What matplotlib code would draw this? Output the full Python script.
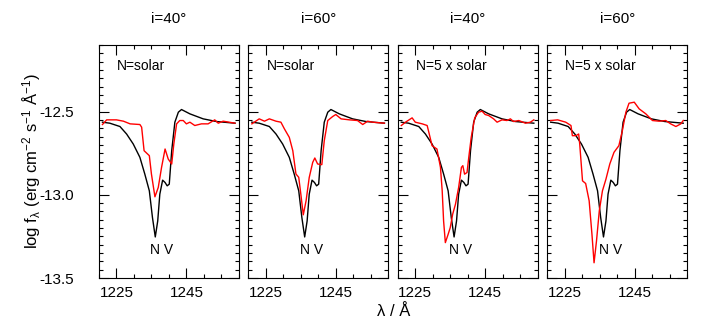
import numpy as np
import matplotlib
matplotlib.use('Agg')
import matplotlib.pyplot as plt
from matplotlib.ticker import MultipleLocator

plt.rcParams['font.family'] = ['Liberation Sans', 'DejaVu Sans']
plt.rcParams['mathtext.fontset'] = 'custom'
plt.rcParams['mathtext.rm'] = 'Liberation Sans'
plt.rcParams['mathtext.it'] = 'Liberation Sans'

# observed spectrum (same in every panel)
obs_wl = [1221.0, 1223.1, 1226.0, 1227.9, 1229.8, 1231.7, 1233.1, 1234.4, 1235.3, 1236.1,
          1236.8, 1237.4, 1238.2, 1238.9, 1239.5, 1240.1, 1240.8, 1241.7, 1242.7, 1243.6,
          1246.0, 1249.8, 1253.6, 1258.9]
obs_f = [-12.564, -12.57, -12.59, -12.635, -12.695, -12.775, -12.875, -12.976, -13.137, -13.253,
         -13.157, -12.996, -12.912, -12.926, -12.946, -12.936, -12.735, -12.564, -12.504, -12.488,
         -12.514, -12.544, -12.56, -12.57]

# models
m1_wl = [1221.0, 1222.2, 1225.0, 1227.0, 1228.9, 1231.7, 1232.2, 1232.9, 1234.4, 1235.0,
         1236.0, 1236.95, 1237.9, 1238.9, 1239.8, 1240.8, 1241.4, 1242.2, 1243.1, 1244.1,
         1245.0, 1246.0, 1247.4, 1249.3, 1251.2, 1253.1, 1254.1, 1255.5, 1258.9]
m1_f = [-12.578, -12.55, -12.55, -12.558, -12.574, -12.578, -12.594, -12.735, -12.765, -12.875,
        -13.012, -12.956, -12.835, -12.725, -12.785, -12.815, -12.695, -12.574, -12.554, -12.554,
        -12.574, -12.564, -12.584, -12.574, -12.574, -12.55, -12.57, -12.558, -12.57]

m2_wl = [1221.0, 1223.1, 1224.6, 1226.0, 1227.9, 1229.3, 1230.3, 1231.7, 1232.7, 1233.6,
         1234.4, 1235.0, 1235.7, 1236.5, 1237.4, 1238.4, 1239.0, 1239.8, 1241.0, 1241.7,
         1242.7, 1244.1, 1245.0, 1246.5, 1248.9, 1251.2, 1252.7, 1254.1, 1255.5, 1258.9]
m2_f = [-12.574, -12.544, -12.558, -12.544, -12.558, -12.564, -12.604, -12.655, -12.735, -12.875,
        -12.895, -12.996, -13.12, -13.036, -12.896, -12.805, -12.779, -12.815, -12.819, -12.675,
        -12.554, -12.53, -12.518, -12.544, -12.55, -12.554, -12.578, -12.558, -12.564, -12.57]

m3_wl = [1221.0, 1222.2, 1224.1, 1225.0, 1227.0, 1228.4, 1229.0, 1229.8, 1231.2, 1232.2,
         1232.7, 1233.1, 1233.6, 1234.4, 1235.0, 1235.7, 1236.5, 1237.4, 1238.2, 1238.6,
         1239.1, 1239.8, 1240.3, 1241.0, 1242.0, 1243.1, 1244.1, 1245.0, 1246.0, 1247.4,
         1248.4, 1249.8, 1251.2, 1252.2, 1253.1, 1254.6, 1256.5, 1257.9, 1258.9]
m3_f = [-12.584, -12.564, -12.538, -12.564, -12.574, -12.584, -12.635, -12.705, -12.725, -12.835,
        -12.976, -13.157, -13.287, -13.237, -13.197, -13.116, -13.056, -12.956, -12.835, -12.825,
        -12.876, -12.866, -12.775, -12.655, -12.538, -12.504, -12.498, -12.518, -12.524, -12.544,
        -12.564, -12.55, -12.554, -12.544, -12.56, -12.554, -12.57, -12.564, -12.55]

m4_wl = [1221.0, 1223.0, 1225.3, 1226.8, 1227.2, 1228.2, 1229.0, 1229.3, 1230.1, 1231.0,
         1232.0, 1232.8, 1233.4, 1234.1, 1234.9, 1235.8, 1236.8, 1237.9, 1239.1, 1240.5,
         1241.5, 1242.5, 1243.4, 1244.9, 1246.3, 1248.2, 1250.1, 1252.0, 1253.9, 1255.3,
         1256.8, 1258.2, 1258.9]
m4_f = [-12.554, -12.55, -12.564, -12.584, -12.645, -12.645, -12.635, -12.695, -12.916, -12.932,
        -13.036, -13.237, -13.408, -13.277, -13.096, -12.976, -12.906, -12.815, -12.745, -12.705,
        -12.614, -12.504, -12.45, -12.444, -12.484, -12.514, -12.554, -12.558, -12.554, -12.574,
        -12.59, -12.574, -12.554]

titles = ['i=40°', 'i=60°', 'i=40°', 'i=60°']
abund = ['N=solar', 'N=solar', 'N=5 x solar', 'N=5 x solar']
models = [(m1_wl, m1_f), (m2_wl, m2_f), (m3_wl, m3_f), (m4_wl, m4_f)]

fig, axes = plt.subplots(1, 4, figsize=(7.12, 3.23), dpi=100, sharey=True)
plt.subplots_adjust(left=0.139, right=0.965, top=0.861, bottom=0.139, wspace=0.068)

for i, ax in enumerate(axes):
    ax.plot(obs_wl, obs_f, color='black', lw=1.0)
    ax.plot(models[i][0], models[i][1], color='red', lw=1.0)
    ax.set_xlim(1220, 1260)
    ax.set_ylim(-13.5, -12.1)
    ax.set_xticks([1225, 1245])
    ax.xaxis.set_minor_locator(MultipleLocator(5))
    ax.yaxis.set_major_locator(MultipleLocator(0.5))
    ax.yaxis.set_minor_locator(MultipleLocator(0.05))
    ax.tick_params(which='both', direction='in', top=True, right=True, labelsize=11)
    ax.tick_params(which='major', length=7, width=0.8)
    ax.tick_params(which='minor', length=3, width=0.8)
    ax.tick_params(axis='x', pad=6)
    ax.tick_params(axis='y', pad=18)
    for s in ax.spines.values():
        s.set_linewidth(0.8)
    ax.set_title(titles[i], fontsize=11, pad=16)
    ax.text(0.13, 0.91, abund[i], transform=ax.transAxes, fontsize=10, va='center')
    ax.text(1238.0, -13.33, 'N V', fontsize=10, ha='center', va='center')

axes[0].set_yticks([-12.5, -13.0, -13.5])
axes[0].set_yticklabels(['-12.5', '-13.0', '-13.5'])
fig.text(0.044, 0.5, r'log f$_\lambda$ (erg cm$^{-2}$ s$^{-1}$ Å$^{-1}$)', fontsize=12,
         rotation=90, ha='center', va='center')
fig.text(0.553, 0.012, 'λ / Å', fontsize=12, ha='center', va='bottom')

plt.savefig('out.png', dpi=100)
